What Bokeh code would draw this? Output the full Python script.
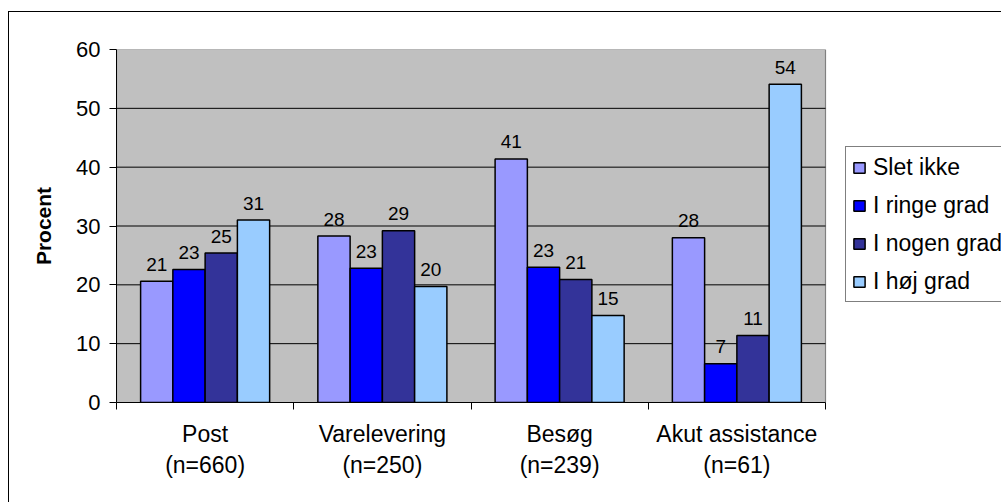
from bokeh.plotting import figure
from bokeh.models import (Range1d, FixedTicker, Legend, LegendItem,
                          ColumnDataSource, InlineStyleSheet)
from bokeh.core.properties import value
from bokeh.embed import file_html
from bokeh.resources import INLINE

# ---- data ----
categories = ["Post", "Varelevering", "Besøg", "Akut assistance"]
n_counts = [660, 250, 239, 61]
series = ["Slet ikke", "I ringe grad", "I nogen grad", "I høj grad"]
slet_ikke = [20.6, 28.3, 41.4, 28.0]
i_ringe_grad = [22.6, 22.8, 23.0, 6.6]
i_nogen_grad = [25.4, 29.2, 20.9, 11.4]
i_hoej_grad = [31.0, 19.7, 14.8, 54.1]
y_ticks = [0, 10, 20, 30, 40, 50, 60]

values = [slet_ikke, i_ringe_grad, i_nogen_grad, i_hoej_grad]
colors = ["#9999FF", "#0000FF", "#333399", "#99CCFF"]
FONT = "Liberation Sans"

frame_css = InlineStyleSheet(css="""
:host { position: relative; }
:host::after {
  content: ''; position: absolute; left: 8px; top: 11px;
  width: calc(100% - 8px); height: calc(100% - 11px);
  border-top: 1.5px solid black; border-left: 1.5px solid black;
  box-sizing: border-box; pointer-events: none;
}
""")

ncat = len(categories)
# the frame runs to the right canvas edge; the plot area covers x in [0, ncat]
x_end = ncat * 885.0 / 709.0

p = figure(width=1001, height=502, output_backend="svg", toolbar_location=None,
           x_range=Range1d(0, x_end), y_range=Range1d(0, 60),
           min_border_left=116, min_border_right=0, min_border_top=49,
           min_border_bottom=100, stylesheets=[frame_css])
p.background_fill_color = "white"
p.border_fill_color = "white"
p.outline_line_color = None
p.xgrid.visible = False
p.ygrid.visible = False

# plot area background and gridlines
p.quad(left=[0], right=[ncat], bottom=[y_ticks[0]], top=[y_ticks[-1]],
       fill_color="#C0C0C0", line_color="#808080", line_width=1.2)
p.segment(x0=[0] * len(y_ticks[1:-1]), x1=[ncat] * len(y_ticks[1:-1]),
          y0=y_ticks[1:-1], y1=y_ticks[1:-1], line_color="black", line_width=1)

# y axis
p.yaxis.ticker = FixedTicker(ticks=y_ticks)
p.yaxis.axis_line_color = "black"
p.yaxis.major_tick_line_color = "black"
p.yaxis.major_tick_out = 7
p.yaxis.major_tick_in = 0
p.yaxis.minor_tick_line_color = None
p.yaxis.major_label_text_font = FONT
p.yaxis.major_label_text_font_size = "22px"
p.yaxis.major_label_text_color = "black"
p.yaxis.major_label_standoff = 9
p.yaxis.axis_label = "Procent"
p.yaxis.axis_label_text_font = FONT
p.yaxis.axis_label_text_font_size = "21px"
p.yaxis.axis_label_text_font_style = "bold"
p.yaxis.axis_label_text_color = "black"
p.yaxis.axis_label_standoff = 18

# x axis
centers = [i + 0.5 for i in range(ncat)]
bounds = [float(i) for i in range(ncat + 1)]
p.xaxis.ticker = FixedTicker(ticks=centers, minor_ticks=bounds)
p.xaxis.bounds = (0, ncat)
p.xaxis.major_label_overrides = {c: f"{cat}\n(n={n})" for c, cat, n in zip(centers, categories, n_counts)}
p.xaxis.axis_line_color = "black"
p.xaxis.major_tick_line_color = None
p.xaxis.major_tick_out = 7
p.xaxis.major_tick_in = 0
p.xaxis.minor_tick_line_color = "black"
p.xaxis.minor_tick_out = 7
p.xaxis.minor_tick_in = 0
p.xaxis.major_label_text_font = FONT
p.xaxis.major_label_text_font_size = "23px"
p.xaxis.major_label_text_color = "black"
p.xaxis.major_label_standoff = 11

# bars
bar_w = 0.182
offsets = [-1.5 * bar_w, -0.5 * bar_w, 0.5 * bar_w, 1.5 * bar_w]
items = []
for name, vals, col, off in zip(series, values, colors, offsets):
    src = ColumnDataSource(dict(x=[c + off for c in centers], top=vals,
                                lab=[f"{v:.0f}" for v in vals]))
    r = p.vbar(x="x", top="top", width=bar_w, source=src, fill_color=col,
               line_color="black", line_width=1.5)
    p.text(x="x", y="top", text="lab", source=src, text_align="center",
           text_baseline="alphabetic", y_offset=-17, text_font=value(FONT),
           text_font_size="19px", text_color="black")
    items.append(LegendItem(label=name, renderers=[r]))

legend = Legend(items=items, location=(729, 100), margin=0, padding=6, spacing=10,
                label_height=28, glyph_height=13, glyph_width=14, label_standoff=7,
                label_text_font=FONT, label_text_font_size="23px",
                label_text_color="black", border_line_color="black",
                border_line_width=1, background_fill_color="white",
                background_fill_alpha=1)
p.add_layout(legend, "center")

open("out.html", "w").write(file_html(p, INLINE))
